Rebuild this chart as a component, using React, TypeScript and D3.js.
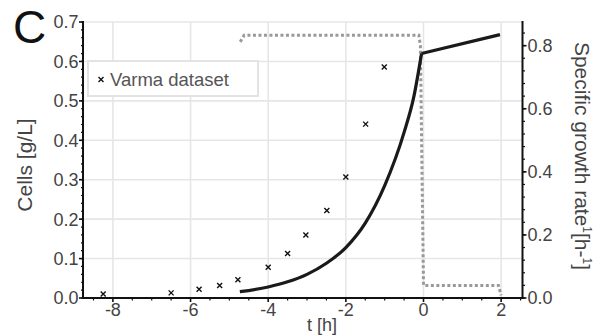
import React from "react";
import * as d3 from "d3";

const varmaT = [-8.25, -6.5, -5.78, -5.25, -4.78, -4.0, -3.5, -3.03, -2.49, -2.0, -1.49, -1.01];
const varmaCells = [0.010, 0.013, 0.022, 0.032, 0.046, 0.078, 0.113, 0.160, 0.222, 0.307, 0.441, 0.586];

const modelT = [-4.73, -4.0, -3.5, -3.0, -2.5, -2.0, -1.5, -1.0, -0.5, -0.25, -0.05];
const modelCells = [0.016, 0.028, 0.041, 0.060, 0.088, 0.128, 0.19, 0.285, 0.42, 0.51, 0.62];
const feedT = [-0.05, 1.97];
const feedCells = [0.62, 0.668];

const rateT = [-4.72, -4.62, -0.12, -0.08, 0.0, 1.93, 2.0];
const rateMu = [0.812, 0.833, 0.833, 0.8, 0.04, 0.04, 0.008];

const xTicks = [-8, -6, -4, -2, 0, 2];
const yLeftTicks = [0, 0.1, 0.2, 0.3, 0.4, 0.5, 0.6, 0.7];
const yRightTicks = [0, 0.2, 0.4, 0.6, 0.8];

const W = 605, H = 336;
const L = 83, R = 522.5, T = 22, B = 298;

export default function App() {
  const x = d3.scaleLinear().domain([-8.77, 2.55]).range([L, R]);
  const yL = d3.scaleLinear().domain([0, 0.7]).range([B, T]);
  const yR = d3.scaleLinear().domain([0, 0.875]).range([B, T]);

  const xMinor = d3.range(-8.5, 2.51, 0.5).filter((v) => Math.abs(v % 2) > 1e-6);
  const yLMinor = d3.range(0, 0.7001, 0.02);
  const yRMinor = d3.range(0, 0.8751, 0.04);

  const modelLine = d3
    .line<number>()
    .x((_, i) => x(modelT[i]))
    .y((d) => yL(d))
    .curve(d3.curveMonotoneX)(modelCells);
  const feedLine = d3
    .line<number>()
    .x((_, i) => x(feedT[i]))
    .y((d) => yL(d))(feedCells);
  const rateLine = d3
    .line<number>()
    .x((_, i) => x(rateT[i]))
    .y((d) => yR(d))(rateMu);

  const font = "'Liberation Sans', Arial, Helvetica, sans-serif";
  const tickColor = "#444";

  const cross = (cx: number, cy: number, s: number, key: any) => (
    <path
      key={key}
      d={`M${cx - s},${cy - s}L${cx + s},${cy + s}M${cx - s},${cy + s}L${cx + s},${cy - s}`}
      stroke="#111"
      strokeWidth={1.4}
    />
  );

  return (
    <svg
      width={W}
      height={H}
      style={{ position: "absolute", left: 0, top: 0, background: "#fff" }}
      fontFamily={font}
    >
      {/* grid */}
      {xTicks.map((t) => (
        <line key={"gx" + t} x1={x(t)} x2={x(t)} y1={T} y2={B} stroke="#e6e6e6" strokeWidth={1.6} />
      ))}
      {yLeftTicks.map((t) => (
        <line key={"gy" + t} x1={L} x2={R} y1={yL(t)} y2={yL(t)} stroke="#e6e6e6" strokeWidth={1.6} />
      ))}

      {/* legend */}
      <rect x={88} y={61} width={170} height={35} fill="#fff" stroke="#e3e3e3" strokeWidth={2} />
      {cross(101, 79.5, 2.5, "lg")}
      <text x={110} y={86} fontSize={18.5} fill="#555">Varma dataset</text>

      {/* data */}
      <path d={rateLine || ""} fill="none" stroke="#999" strokeWidth={3} strokeDasharray="3,2.5" />
      <path d={modelLine || ""} fill="none" stroke="#1a1a1a" strokeWidth={3.2} />
      <path d={feedLine || ""} fill="none" stroke="#1a1a1a" strokeWidth={3.2} />
      {varmaT.map((t, i) => cross(x(t), yL(varmaCells[i]), 2.5, "v" + i))}

      {/* left axis */}
      <line x1={L} x2={L} y1={T - 1} y2={B + 1} stroke="#111" strokeWidth={2} />
      {yLMinor.map((t, i) => (
        <line key={"lm" + i} x1={L - 2} x2={L} y1={yL(t)} y2={yL(t)} stroke="#111" strokeWidth={1.2} />
      ))}
      {yLeftTicks.map((t) => (
        <g key={"lt" + t}>
          <line x1={L - 4} x2={L} y1={yL(t)} y2={yL(t)} stroke="#111" strokeWidth={1.6} />
          <text x={L - 4.5} y={yL(t)} dy="0.36em" textAnchor="end" fontSize={18} fill={tickColor}>
            {t.toFixed(1)}
          </text>
        </g>
      ))}

      {/* right axis */}
      <line x1={R} x2={R} y1={T - 1} y2={B + 1} stroke="#111" strokeWidth={2} />
      {yRMinor.map((t, i) => (
        <line key={"rm" + i} x1={R} x2={R + 2.5} y1={yR(t)} y2={yR(t)} stroke="#111" strokeWidth={1.2} />
      ))}
      {yRightTicks.map((t) => (
        <g key={"rt" + t}>
          <line x1={R} x2={R + 4} y1={yR(t)} y2={yR(t)} stroke="#111" strokeWidth={1.6} />
          <text x={R + 5} y={yR(t)} dy="0.36em" textAnchor="start" fontSize={18} fill={tickColor}>
            {t.toFixed(1)}
          </text>
        </g>
      ))}

      {/* bottom axis */}
      <line x1={L - 1} x2={R + 1} y1={B} y2={B} stroke="#111" strokeWidth={2} />
      {xMinor.map((t, i) => (
        <line key={"xm" + i} x1={x(t)} x2={x(t)} y1={B} y2={B + 2.5} stroke="#111" strokeWidth={1.2} />
      ))}
      {xTicks.map((t) => (
        <g key={"xt" + t}>
          <line x1={x(t)} x2={x(t)} y1={B} y2={B + 4} stroke="#111" strokeWidth={1.6} />
          <text x={x(t)} y={B + 18} textAnchor="middle" fontSize={18} fill={tickColor}>
            {String(t)}
          </text>
        </g>
      ))}

      {/* labels */}
      <text x={322} y={331} textAnchor="middle" fontSize={18} fill={tickColor}>t [h]</text>
      <text
        transform={`translate(32,165) rotate(-90)`}
        textAnchor="middle"
        fontSize={21}
        fill={tickColor}
      >
        Cells [g/L]
      </text>
      <text
        transform={`translate(575,156) rotate(90)`}
        textAnchor="middle"
        fontSize={21}
        fill={tickColor}
      >
        Specific growth rate
        <tspan fontSize={12} dy="-8">1</tspan>
        <tspan fontSize={21} dy="8">[h-</tspan>
        <tspan fontSize={12} dy="-8">1</tspan>
        <tspan fontSize={21} dy="8">]</tspan>
      </text>
      <text x={13} y={43} fontSize={46} fill="#111">C</text>
    </svg>
  );
}
